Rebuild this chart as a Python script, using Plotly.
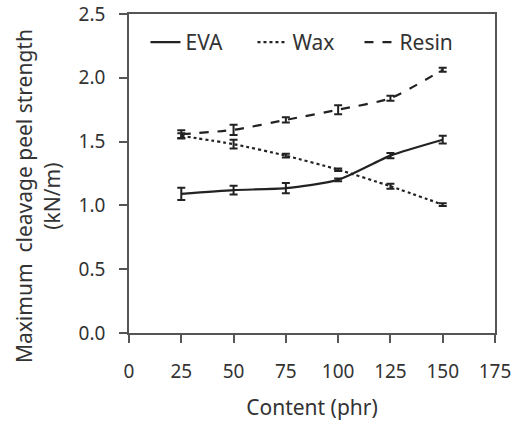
import plotly.graph_objects as go

content = [25, 50, 75, 100, 125, 150]
eva = [1.09, 1.12, 1.135, 1.20, 1.39, 1.515]
eva_err = [0.048, 0.034, 0.04, 0.01, 0.02, 0.03]
wax = [1.545, 1.48, 1.39, 1.28, 1.15, 1.006]
wax_err = [0.02, 0.035, 0.015, 0.01, 0.02, 0.01]
resin = [1.558, 1.592, 1.67, 1.75, 1.84, 2.063]
resin_err = [0.03, 0.04, 0.02, 0.035, 0.02, 0.015]

x_ticks = [0, 25, 50, 75, 100, 125, 150, 175]
y_ticks = [0.0, 0.5, 1.0, 1.5, 2.0, 2.5]
y_title = "Maximum  cleavage peel strength<br>(kN/m)"
x_title = "Content (phr)"

ink = "#222222"
axis_col = "#555555"
family = "Noto Sans, DejaVu Sans, sans-serif"
font = dict(family=family, size=19, color="#333333")
tfont = dict(family=family, size=21, color="#333333")

fig = go.Figure()
for name, ys, err, dash in [("EVA", eva, eva_err, "solid"),
                            ("Wax", wax, wax_err, "dot"),
                            ("Resin", resin, resin_err, "dash")]:
    fig.add_trace(go.Scatter(
        x=content, y=ys, name=name, mode="lines",
        line=dict(color=ink, width=2.2, dash=dash, shape="spline", smoothing=0.6),
        error_y=dict(type="data", array=err, visible=True, color=ink, thickness=2, width=4),
    ))

fig.update_layout(
    width=514, height=425,
    margin=dict(l=129, r=19, t=14, b=92, autoexpand=False),
    paper_bgcolor="white", plot_bgcolor="white",
    font=font,
    showlegend=True,
    legend=dict(orientation="h", x=0.045, xanchor="left", y=0.975, yanchor="top",
                bgcolor="rgba(0,0,0,0)", font=tfont,
                itemwidth=30, tracegroupgap=0, entrywidth=62),
    annotations=[dict(text=y_title, textangle=-90, xref="paper", yref="paper",
                      x=-0.248, y=0.43, xanchor="center", yanchor="middle",
                      showarrow=False, font=tfont)],
)
fig.update_xaxes(
    range=[0, 175], tickvals=x_ticks, ticktext=[str(v) for v in x_ticks],
    showgrid=False, zeroline=False, showline=True, linecolor=axis_col, linewidth=1.5,
    mirror=True, ticks="outside", ticklen=8, tickcolor=axis_col, tickwidth=1.5,
    ticklabelstandoff=12,
    title=dict(text=x_title, standoff=18, font=tfont),
)
fig.update_yaxes(
    range=[0, 2.5], tickvals=y_ticks, ticktext=[f"{v:.1f}" for v in y_ticks],
    showgrid=False, zeroline=False, showline=True, linecolor=axis_col, linewidth=1.5,
    mirror=True, ticks="outside", ticklen=8, tickcolor=axis_col, tickwidth=1.5,
    ticklabelstandoff=10,
)
fig.write_html("out.html")
